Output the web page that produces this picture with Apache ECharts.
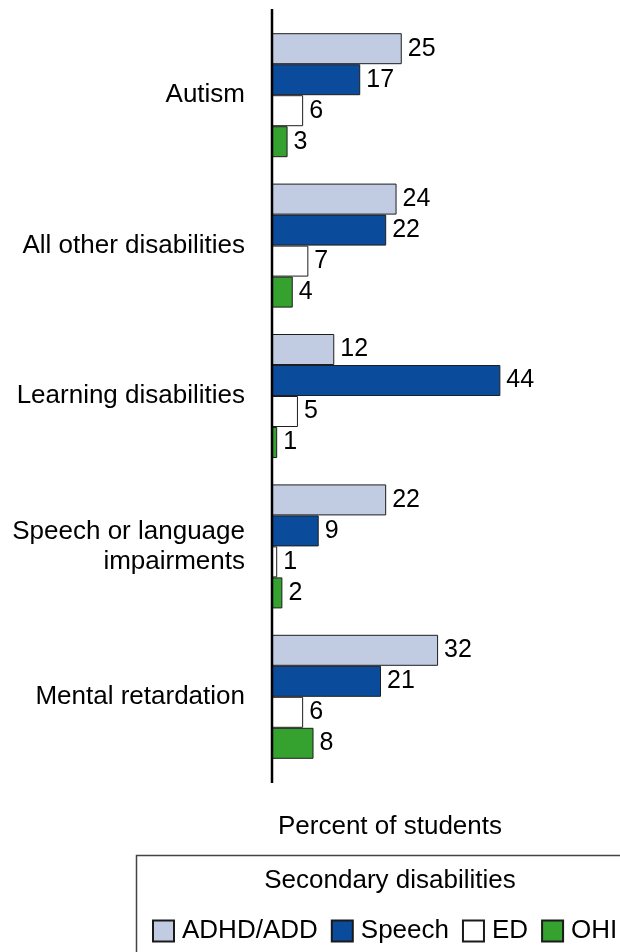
<!DOCTYPE html>
<html>
<head>
<meta charset="utf-8">
<script src="https://cdn.jsdelivr.net/npm/echarts@6/dist/echarts.min.js"></script>
<style>
  html, body { margin: 0; padding: 0; background: #fff; }
  #chart { width: 620px; height: 952px; }
</style>
</head>
<body>
<div id="chart"></div>
<script>
// Primary disability groups (top to bottom)
const categories = [
  'Autism',
  'All other disabilities',
  'Learning disabilities',
  'Speech or language\nimpairments',
  'Mental retardation'
];

// Share of students with each secondary disability, percent
const adhd   = [25, 24, 12, 22, 32];
const speech = [17, 22, 44,  9, 21];
const ed     = [ 6,  7,  5,  1,  6];
const ohi    = [ 3,  4,  1,  2,  8];

const seriesNames = ['ADHD/ADD', 'Speech', 'ED', 'OHI'];
const seriesColors = ['#c1cce3', '#0b4b9c', '#ffffff', '#35a12e'];

const FONT = "'Liberation Sans', Arial, Helvetica, sans-serif";

const chart = echarts.init(document.getElementById('chart'), null, { renderer: 'canvas' });

function barSeries(name, data, color) {
  return {
    name: name,
    type: 'bar',
    data: data,
    barWidth: 31,
    barGap: '0%',
    itemStyle: { color: color, borderColor: '#1e1e1e', borderWidth: 1 },
    label: {
      show: true,
      position: 'right',
      distance: 6,
      color: '#000',
      fontFamily: FONT,
      fontSize: 25
    }
  };
}

const option = {
  animation: false,
  backgroundColor: '#fff',
  textStyle: { fontFamily: FONT },
  title: [
    {
      text: 'Percent of students',
      left: 385,
      top: 809,
      textAlign: 'center',
      textStyle: { fontFamily: FONT, fontSize: 26, fontWeight: 'normal', color: '#000' }
    },
    {
      text: 'Secondary disabilities',
      left: 385,
      top: 863,
      textAlign: 'center',
      textStyle: { fontFamily: FONT, fontSize: 26, fontWeight: 'normal', color: '#000' }
    }
  ],
  legend: {
    data: seriesNames,
    left: 147,
    top: 913,
    width: 620,
    orient: 'horizontal',
    itemWidth: 21,
    itemHeight: 21,
    itemGap: 13,
    icon: 'rect',
    itemStyle: { borderColor: '#1a1a1a', borderWidth: 2 },
    textStyle: { fontFamily: FONT, fontSize: 26, color: '#000', padding: [0, 0, 0, 3] },
    selectedMode: false
  },
  grid: {
    left: 272,
    top: 20,
    width: 259.5,
    height: 752,
    containLabel: false
  },
  xAxis: {
    type: 'value',
    min: 0,
    max: 50,
    show: false
  },
  yAxis: {
    type: 'category',
    data: categories,
    inverse: true,
    axisLine: { show: false },
    axisTick: { show: false },
    splitLine: { show: false },
    axisLabel: {
      margin: 27,
      color: '#000',
      fontFamily: FONT,
      fontSize: 26,
      lineHeight: 30,
      align: 'right'
    }
  },
  series: [
    barSeries(seriesNames[0], adhd, seriesColors[0]),
    barSeries(seriesNames[1], speech, seriesColors[1]),
    barSeries(seriesNames[2], ed, seriesColors[2]),
    barSeries(seriesNames[3], ohi, seriesColors[3])
  ]
};

chart.setOption(option);

// Vertical baseline at zero, running a little past the plot area,
// and the frame around the legend block.
const x0 = chart.convertToPixel({ xAxisIndex: 0 }, 0);
const gridTop = 20, gridBottom = 20 + 752;
chart.setOption({
  graphic: [
    {
      type: 'line',
      shape: { x1: x0, y1: gridTop - 11, x2: x0, y2: gridBottom + 11 },
      style: { stroke: '#000', lineWidth: 2.5 },
      z: 10
    },
    {
      type: 'rect',
      shape: { x: 136.5, y: 855.5, width: 600, height: 200 },
      style: { fill: 'none', stroke: '#444', lineWidth: 1.5 },
      z: 0
    }
  ]
});
</script>
</body>
</html>
